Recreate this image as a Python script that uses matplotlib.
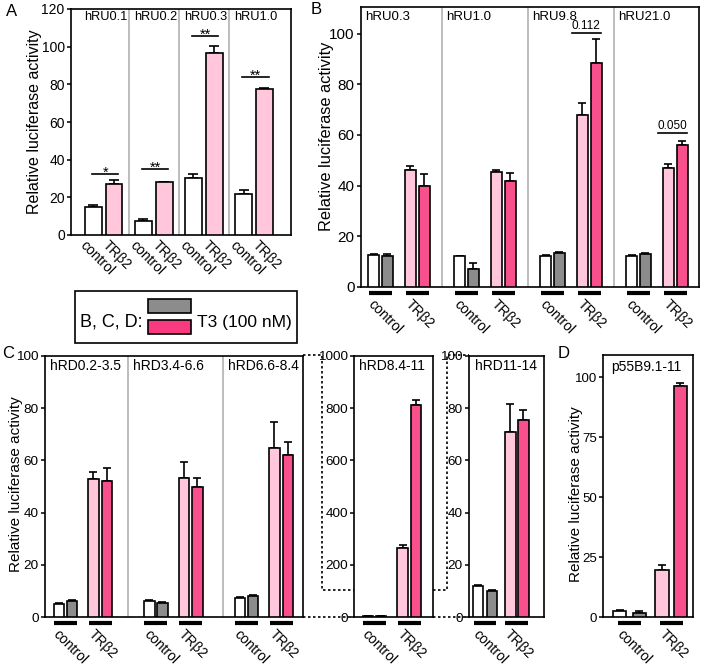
import matplotlib
matplotlib.use('Agg')
import matplotlib.pyplot as plt
import matplotlib.transforms as mtransforms
from matplotlib.patches import Rectangle
from matplotlib.lines import Line2D
import numpy as np

plt.rcParams['font.family'] = ['Liberation Sans', 'DejaVu Sans']

# ---------------- data ----------------
A_groups = ['hRU0.1', 'hRU0.2', 'hRU0.3', 'hRU1.0']
A_control = [14.7, 7.4, 30.4, 21.8]
A_control_err = [1.1, 0.9, 2.0, 2.1]
A_trb2 = [26.9, 28.0, 96.8, 77.4]
A_trb2_err = [2.1, 0.3, 3.7, 0.6]
A_sig = ['*', '**', '**', '**']
A_sig_level = [32.4, 35.0, 105.8, 84.0]

B_groups = ['hRU0.3', 'hRU1.0', 'hRU9.8', 'hRU21.0']
B_ctrl = [12.7, 12.2, 12.2, 12.2]
B_ctrl_err = [0.5, 0.0, 0.5, 0.5]
B_ctrl_T3 = [12.2, 7.0, 13.3, 12.9]
B_ctrl_T3_err = [1.0, 2.6, 0.4, 0.4]
B_tr = [46.0, 45.4, 67.8, 47.0]
B_tr_err = [1.7, 0.6, 5.0, 1.6]
B_tr_T3 = [40.0, 41.8, 88.5, 56.0]
B_tr_T3_err = [4.5, 3.0, 9.2, 1.5]
B_p_groups = [2, 3]
B_p_text = ['0.112', '0.050']
B_p_level = [100.4, 60.8]

C_groups = ['hRD0.2-3.5', 'hRD3.4-6.6', 'hRD6.6-8.4', 'hRD8.4-11', 'hRD11-14']
C_ctrl = [4.9, 6.3, 7.2, 4.0, 11.9]
C_ctrl_err = [0.5, 0.4, 0.3, 0.5, 0.5]
C_ctrl_T3 = [6.3, 5.3, 8.1, 3.0, 10.1]
C_ctrl_T3_err = [0.3, 0.3, 0.3, 0.5, 0.3]
C_tr = [53.0, 53.2, 64.7, 264.0, 71.0]
C_tr_err = [2.5, 6.1, 10.0, 13.0, 10.5]
C_tr_T3 = [52.1, 49.7, 61.9, 811.0, 75.5]
C_tr_T3_err = [5.1, 3.4, 5.3, 20.0, 3.8]

D_group = 'p55B9.1-11'
D_vals = [2.5, 1.8, 19.8, 96.5]
D_errs = [0.3, 0.5, 2.1, 1.2]

xcats = ['control', 'TRβ2']
ylabel = 'Relative luciferase activity'

# ---------------- style ----------------
COLS = ['white', '#8c8c8c', '#ffc6dc', '#f7508c']
LEG_PINK = '#fa3a80'
SEP = '#b8b8b8'
W, H = 709, 667
fig = plt.figure(figsize=(W / 100, H / 100), dpi=100)


def add_ax(x0, y0, x1, y1, tsize):
    ax = fig.add_axes([x0 / W, 1 - y1 / H, (x1 - x0) / W, (y1 - y0) / H])
    for s in ax.spines.values():
        s.set_linewidth(1.2)
    ax.tick_params(axis='y', direction='out', length=3, width=1.1, pad=1.5, labelsize=tsize)
    ax.tick_params(axis='x', bottom=False, labelbottom=False)
    ax.hpx = y1 - y0
    return ax


def fig_line(xs, ys, **kw):
    fig.add_artist(Line2D([x / W for x in xs], [1 - y / H for y in ys],
                          transform=fig.transFigure, **kw))


def fig_text(x, y, s, **kw):
    fig.text(x / W, 1 - y / H, s, **kw)


def draw_bars(ax, centers, vals, errs, color, width, capsize):
    ax.bar(centers, vals, width=width, color=color, edgecolor='black', linewidth=1.2, zorder=3)
    ax.errorbar(centers, vals, yerr=[np.zeros(len(vals)), errs], fmt='none', ecolor='black',
                elinewidth=1.2, capsize=capsize, capthick=1.2, zorder=2)


def title(ax, x, s, size, dy=10):
    tr = mtransforms.blended_transform_factory(ax.transData, ax.transAxes)
    ax.text(x, 1 - dy / ax.hpx, s, transform=tr, ha='left', va='center', fontsize=size)


def xlab(ax, x, s, dy, size=10):
    tr = mtransforms.blended_transform_factory(ax.transData, ax.transAxes)
    ax.text(x, -dy / ax.hpx, s, transform=tr, ha='left', va='top', rotation=-45,
            rotation_mode='anchor', fontsize=size, clip_on=False)


def underline(ax, x, half=11.5):
    tr = mtransforms.blended_transform_factory(ax.transData, ax.transAxes)
    ax.plot([x - half, x + half], [-6 / ax.hpx] * 2, color='black', lw=3, transform=tr,
            clip_on=False, solid_capstyle='butt')


def four_bar_panel(ax, centers, offs, width, capsize, ctrl, ctrl_e, ctrl3, ctrl3_e, tr, tr_e, tr3, tr3_e):
    c = np.asarray(centers, dtype=float)
    draw_bars(ax, c + offs[0], ctrl, ctrl_e, COLS[0], width, capsize)
    draw_bars(ax, c + offs[1], ctrl3, ctrl3_e, COLS[1], width, capsize)
    draw_bars(ax, c + offs[2], tr, tr_e, COLS[2], width, capsize)
    draw_bars(ax, c + offs[3], tr3, tr3_e, COLS[3], width, capsize)
    for g in c:
        p1 = g + (offs[0] + offs[1]) / 2
        p2 = g + (offs[2] + offs[3]) / 2
        underline(ax, p1)
        underline(ax, p2)
        xlab(ax, p1 - 5, xcats[0], 10)
        xlab(ax, p2 - 5, xcats[1], 10)


# ---------------- Panel A ----------------
axA = add_ax(71, 9, 291, 235, 10)
spA = 50.1
xA = np.arange(len(A_groups)) * spA
axA.set_xlim(-32.75, 3 * spA + 37)
axA.set_ylim(0, 120)
axA.set_yticks(range(0, 121, 20))
draw_bars(axA, xA - 10.45, A_control, A_control_err, COLS[0], 16.5, 3.5)
draw_bars(axA, xA + 10.45, A_trb2, A_trb2_err, COLS[2], 16.5, 3.5)
for g in range(len(A_groups)):
    if g < len(A_groups) - 1:
        axA.axvline(xA[g] + spA / 2, color=SEP, lw=1.3, zorder=1)
    left = max(-32.75, xA[g] - spA / 2)
    title(axA, left + 5, A_groups[g], 9.2, dy=8)
    axA.plot([xA[g] - 12, xA[g] + 14.5], [A_sig_level[g]] * 2, color='black', lw=1.2)
    axA.text(xA[g] + 1.5, A_sig_level[g] - 1.5, A_sig[g], ha='center', va='baseline', fontsize=10.5)
    xlab(axA, xA[g] - 10.45 - 6, xcats[0], 3)
    xlab(axA, xA[g] + 10.45 - 5, xcats[1], 3)
fig_text(35, 122, ylabel, rotation=90, ha='center', va='center', fontsize=11.5)
fig_text(12, 11, 'A', ha='center', va='center', fontsize=12)

# ---------------- Panel B ----------------
axB = add_ax(361, 7, 699, 287, 11)
spB = 86.0
xB = np.arange(len(B_groups)) * spB
axB.set_xlim(-38, 3 * spB + 42)
axB.set_ylim(0, 110.5)
axB.set_yticks(range(0, 101, 20))
offB = [-25.3, -11.6, 11.2, 25.3]
four_bar_panel(axB, xB, offB, 11, 3, B_ctrl, B_ctrl_err, B_ctrl_T3, B_ctrl_T3_err,
               B_tr, B_tr_err, B_tr_T3, B_tr_T3_err)
for g in range(len(B_groups)):
    if g < len(B_groups) - 1:
        axB.axvline(xB[g] + spB / 2, color=SEP, lw=1.3, zorder=1)
    left = max(-38, xB[g] - spB / 2)
    title(axB, left + 4.5, B_groups[g], 9.5, dy=10)
for g, t, lv in zip(B_p_groups, B_p_text, B_p_level):
    axB.plot([xB[g] + 1, xB[g] + 29.5], [lv, lv], color='black', lw=1.2)
    axB.text(xB[g] + 15, lv + 0.3, t, ha='center', va='bottom', fontsize=8.5)
fig_text(327, 136, ylabel, rotation=90, ha='center', va='center', fontsize=11.8)
fig_text(316, 10, 'B', ha='center', va='center', fontsize=12)

# ---------------- Legend box ----------------
fig.add_artist(Rectangle((75 / W, 1 - 343 / H), (297 - 75) / W, (343 - 291) / H,
                         transform=fig.transFigure, fill=False, edgecolor='black', lw=1.2))
fig_text(80, 322, 'B, C, D:', ha='left', va='center', fontsize=13)
fig.add_artist(Rectangle((148 / W, 1 - 313 / H), 42.7 / W, 14 / H, transform=fig.transFigure,
                         facecolor=COLS[1], edgecolor='black', lw=1.2))
fig.add_artist(Rectangle((148 / W, 1 - 334 / H), 42.7 / W, 14 / H, transform=fig.transFigure,
                         facecolor=LEG_PINK, edgecolor='black', lw=1.2))
fig_text(197, 322, 'T3 (100 nM)', ha='left', va='center', fontsize=12.5)

# ---------------- Panel C ----------------
offC = [-24, -11, 10.5, 24]
# C1: three groups
axC1 = add_ax(45, 356, 303, 617, 9.7)
spC = 90.5
xC = np.arange(3) * spC
axC1.set_xlim(-37.9, 2 * spC + 39)
axC1.set_ylim(0, 100)
axC1.set_yticks(range(0, 101, 20))
four_bar_panel(axC1, xC, offC, 10.5, 3, C_ctrl[:3], C_ctrl_err[:3], C_ctrl_T3[:3], C_ctrl_T3_err[:3],
               C_tr[:3], C_tr_err[:3], C_tr_T3[:3], C_tr_T3_err[:3])
for g in range(3):
    if g < 2:
        axC1.axvline(xC[g] + spC / 2 + (0 if g == 0 else 4), color=SEP, lw=1.3, zorder=1)
    left = max(-37.9, xC[g] - spC / 2 + (0 if g < 2 else 4))
    title(axC1, left + 5, C_groups[g], 10, dy=10)

# C2: hRD8.4-11 (0-1000 scale)
axC2 = add_ax(354, 356, 433, 617, 9.7)
axC2.set_xlim(-38, 41)
axC2.set_ylim(0, 1000)
axC2.set_yticks(range(0, 1001, 200))
four_bar_panel(axC2, [0], offC, 10.5, 3, C_ctrl[3:4], C_ctrl_err[3:4], C_ctrl_T3[3:4], C_ctrl_T3_err[3:4],
               C_tr[3:4], C_tr_err[3:4], C_tr_T3[3:4], C_tr_T3_err[3:4])
title(axC2, -38 + 5, C_groups[3], 10, dy=10)

# C3: hRD11-14
axC3 = add_ax(469, 356, 544, 617, 9.7)
axC3.set_xlim(-32, 43)
axC3.set_ylim(0, 100)
axC3.set_yticks(range(0, 101, 20))
four_bar_panel(axC3, [0], [-23, -9, 9.5, 22.5], 10.5, 3, C_ctrl[4:], C_ctrl_err[4:], C_ctrl_T3[4:],
               C_ctrl_T3_err[4:], C_tr[4:], C_tr_err[4:], C_tr_T3[4:], C_tr_T3_err[4:])
title(axC3, -32 + 6, C_groups[4], 10, dy=10)

fig_text(16, 484, ylabel, rotation=90, ha='center', va='center', fontsize=11)
fig_text(8, 353, 'C', ha='center', va='center', fontsize=12)

dot = dict(color='black', lw=1.2, linestyle=(0, (1.5, 1.5)), zorder=-1)
fig_line([303, 322, 322, 447, 447, 469], [355, 355, 590, 590, 355, 355], **dot)
fig_line([303, 354], [617, 617], **dot)
fig_line([433, 469], [617, 617], **dot)

# ---------------- Panel D ----------------
axD = add_ax(603, 355, 693, 617, 9.5)
axD.set_xlim(-47, 43)
axD.set_ylim(0, 109.3)
axD.set_yticks(range(0, 101, 25))
four_bar_panel(axD, [0], [-30.5, -10.7, 12, 30.3], 13.5, 3.2, D_vals[0:1], D_errs[0:1], D_vals[1:2],
               D_errs[1:2], D_vals[2:3], D_errs[2:3], D_vals[3:4], D_errs[3:4])
title(axD, -47 + 8.5, D_group, 10, dy=12)
fig_text(576, 494, ylabel, rotation=90, ha='center', va='center', fontsize=11)
fig_text(564, 353, 'D', ha='center', va='center', fontsize=12)

fig.savefig('out.png', dpi=100, facecolor='white')
